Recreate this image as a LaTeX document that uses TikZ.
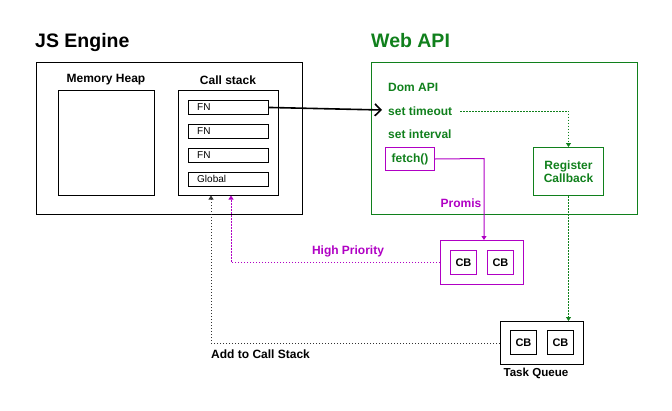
\documentclass[tikz,border=0pt]{standalone}
\usepackage{fontspec}
\setmainfont{Liberation Sans}
\usetikzlibrary{arrows.meta}
\definecolor{wgreen}{RGB}{16,128,28}
\definecolor{wpurple}{RGB}{176,0,196}
\tikzset{
  box/.style={draw, line width=1pt, inner sep=0pt},
  fnbox/.style={draw, line width=0.9pt, minimum width=80pt, minimum height=14pt, inner sep=0pt, anchor=north west},
  fntext/.style={font=\fontsize{10}{12}\selectfont, anchor=west, inner sep=0pt},
  title/.style={font=\fontsize{19.5}{22}\selectfont\bfseries, anchor=west, inner sep=0pt},
  lbl/.style={font=\fontsize{12}{14}\selectfont\bfseries, inner sep=0pt},
  cb/.style={draw, line width=0.9pt, minimum width=26pt, minimum height=24pt, inner sep=0pt, font=\fontsize{11}{13}\selectfont\bfseries, anchor=north west},
  dotarrow/.style={line width=0.9pt, dash pattern=on 1.5pt off 1.5pt, -{Triangle[length=4pt,width=5pt]}},
}
\begin{document}
\begin{tikzpicture}[x=1pt,y=-1pt]
\useasboundingbox (0,0) rectangle (672,410);
% JS Engine
\node[title] (jst) at (35,42) {JS Engine};
\draw[line width=1pt] (36,62) rectangle (302,214);
\node[lbl] (mh) at (106,80) {Memory Heap};
\draw[line width=1pt] (58,90) rectangle (154,195);
\node[lbl] (cs) at (228,80) {Call stack};
\node[box, minimum width=100pt, minimum height=105pt, anchor=north west] (csb) at (178,90) {};
\node[fnbox] (fn1) at (188,100) {};
\node[fntext] at (197,107) {FN};
\node[fnbox] (fn2) at (188,124) {};
\node[fntext] at (197,131) {FN};
\node[fnbox] (fn3) at (188,148) {};
\node[fntext] at (197,155) {FN};
\node[fnbox] (glob) at (188,172) {};
\node[fntext] at (197,179) {Global};
% Web API
\node[title, text=wgreen] (wat) at (371,41) {Web API};
\draw[wgreen, line width=1pt] (371,62) rectangle (637,214);
\node[lbl, text=wgreen, anchor=west] (dom) at (388,87) {Dom API};
\node[lbl, text=wgreen, anchor=west] (sto) at (388,111) {set timeout};
\node[lbl, text=wgreen, anchor=west] (sin) at (388,134) {set interval};
\node[box, draw=wpurple, text=wgreen, font=\fontsize{12}{14}\selectfont\bfseries, minimum width=49pt, minimum height=23pt, anchor=north west] (fetch) at (385,147) {fetch()};
\node[box, draw=wgreen, text=wgreen, font=\fontsize{12}{14}\selectfont\bfseries, align=center, minimum width=70pt, minimum height=48pt, anchor=north west] (reg) at (533,147) {Register\\[-1pt]Callback};
\node[lbl, text=wpurple] (promis) at (461,203) {Promis};
% Microtask group
\node[box, draw=wpurple, minimum width=83pt, minimum height=44pt, anchor=north west] (mq) at (440,240) {};
\node[cb, draw=wpurple] (cb1) at (450,250) {CB};
\node[cb, draw=wpurple] (cb2) at (487,250) {CB};
\node[lbl, text=wpurple] (hp) at (348,251) {High Priority};
% Task queue
\node[box, minimum width=83pt, minimum height=43pt, anchor=north west] (tq) at (500,321) {};
\node[cb] (cb3) at (510,330) {CB};
\node[cb] (cb4) at (547,330) {CB};
\node[lbl, font=\fontsize{11.6}{14}\selectfont\bfseries] (tql) at (536,373) {Task Queue};
\node[lbl, anchor=west] (acs) at (211,354) {Add to Call Stack};
% connectors
\draw[line width=1.6pt, -{Straight Barb[length=6pt,width=12pt,line width=1.6pt]}] (fn1.east) -- (382,110);
\coordinate (t1) at (460,111);
\draw[wgreen, dotarrow] (t1) -- (reg.north |- t1) -- (reg.north);
\draw[wgreen, dotarrow] (reg.south) -- (tq.north -| reg.south);
\draw[wpurple, line width=1pt, -{Triangle[length=4pt,width=5pt]}] (fetch.east) -- (484,158.5) -- (mq.north -| 484,0);
\draw[wpurple, dotarrow] (mq.west) -| (231,195.5);
\draw[black!80, dotarrow] (tq.west) -| (211,195.5);
\end{tikzpicture}
\end{document}
